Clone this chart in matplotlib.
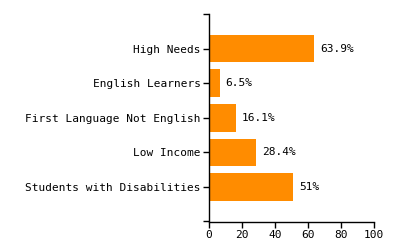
import matplotlib
matplotlib.use("Agg")
import matplotlib.pyplot as plt

categories = ["High Needs", "English Learners", "First Language Not English",
              "Low Income", "Students with Disabilities"]
values = [63.9, 6.5, 16.1, 28.4, 51]
value_labels = ["63.9%", "6.5%", "16.1%", "28.4%", "51%"]
x_ticks = [0, 20, 40, 60, 80, 100]

plt.rcParams["font.family"] = "DejaVu Sans Mono"
plt.rcParams["font.size"] = 8

fig = plt.figure(figsize=(4, 2.5), dpi=100)
ax = fig.add_axes([0.5225, 0.114, 0.4125, 0.83])

pos = list(range(len(categories)))
ax.barh(pos, values, height=0.8, color="#FF8C00")
for p, v, lab in zip(pos, values, value_labels):
    ax.text(v + 3.5, p, lab, va="center", ha="left", color="black")

ax.set_xlim(0, 100)
ax.set_ylim(len(categories), -1)
# outer ticks at the ends of the axis, d3 style
ax.set_yticks([-1] + pos + [len(categories)])
ax.set_yticklabels([""] + categories + [""])
ax.set_xticks(x_ticks)
ax.set_xticklabels([str(t) for t in x_ticks])
ax.tick_params(axis="both", length=4, width=1, color="black", pad=2)

for s in ["top", "right"]:
    ax.spines[s].set_visible(False)
for s in ["left", "bottom"]:
    ax.spines[s].set_linewidth(1)
    ax.spines[s].set_color("black")

fig.savefig("out.png", dpi=100)
